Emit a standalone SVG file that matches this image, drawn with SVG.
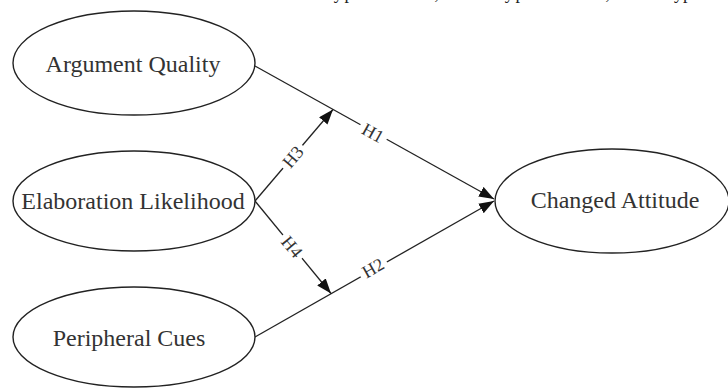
<svg xmlns="http://www.w3.org/2000/svg" width="728" height="389" viewBox="0 0 728 389">
<defs>
<marker id="arr" markerUnits="userSpaceOnUse" markerWidth="16" markerHeight="12" refX="15" refY="5.5" orient="auto">
<path d="M0,0 L15,5.5 L0,11 z" fill="#111"/>
</marker>
<style>
.node ellipse{fill:#fff;stroke:#222;stroke-width:1.4}
.node text{font-family:"Liberation Serif","Times New Roman",serif;font-size:24px;fill:#333;text-anchor:middle}
.edge{stroke:#222;stroke-width:1.3;fill:none}
.lbl text{font-family:"Liberation Serif","Times New Roman",serif;font-size:18px;fill:#333;text-anchor:middle}
.lbl rect{fill:#fff}
.top{font-family:"Liberation Serif","Times New Roman",serif;font-size:18px;fill:#222}
</style>
</defs>
<rect width="728" height="389" fill="#fff"/>
<text class="top" x="319" y="-1" textLength="120" lengthAdjust="spacing">Hypothesis 1,</text>
<text class="top" x="490" y="-1" textLength="120" lengthAdjust="spacing">Hypothesis 2,</text>
<text class="top" x="661" y="-1">Hypothesis 3</text>
<g id="connectors">
<line class="edge" x1="255" y1="66" x2="494" y2="199" marker-end="url(#arr)"/>
<line class="edge" x1="255" y1="337" x2="494" y2="201" marker-end="url(#arr)"/>
<line class="edge" x1="255" y1="201" x2="333" y2="109.5" marker-end="url(#arr)"/>
<line class="edge" x1="255" y1="201" x2="331" y2="293.5" marker-end="url(#arr)"/>
<g class="lbl" transform="translate(373,133) rotate(29.1)"><rect x="-15" y="-8" width="30" height="16"/><text y="6">H1</text></g>
<g class="lbl" transform="translate(373,268) rotate(-29.7)"><rect x="-15" y="-8" width="30" height="16"/><text y="6">H2</text></g>
<g class="lbl" transform="translate(293,157) rotate(-49.6)"><rect x="-15" y="-8" width="30" height="16"/><text y="6">H3</text></g>
<g class="lbl" transform="translate(292,247) rotate(50.4)"><rect x="-15" y="-8" width="30" height="16"/><text y="6">H4</text></g>
</g>
<g id="argument-quality" class="node"><ellipse cx="134" cy="63" rx="121" ry="52"/><text x="133" y="72">Argument Quality</text></g>
<g id="elaboration-likelihood" class="node"><ellipse cx="134" cy="201" rx="121" ry="50"/><text x="133" y="209">Elaboration Likelihood</text></g>
<g id="peripheral-cues" class="node"><ellipse cx="134" cy="337" rx="121" ry="50"/><text x="129" y="346">Peripheral Cues</text></g>
<g id="changed-attitude" class="node"><ellipse cx="612" cy="201" rx="117" ry="52"/><text x="615" y="208">Changed Attitude</text></g>
</svg>
